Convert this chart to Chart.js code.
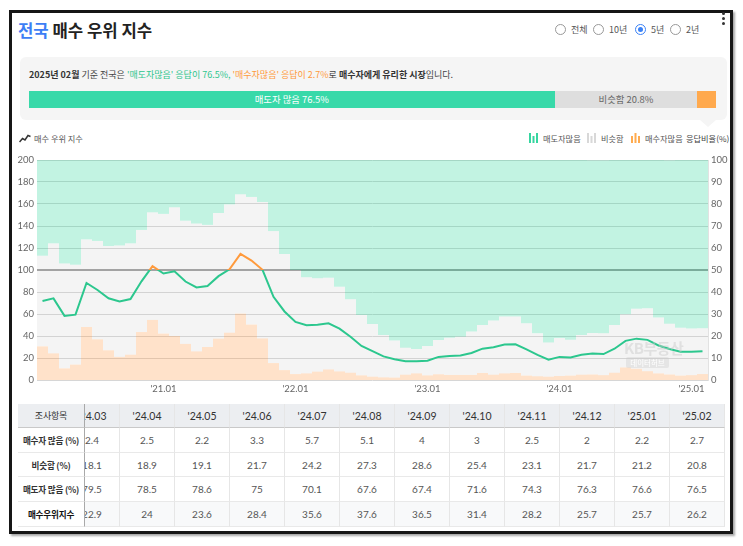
<!DOCTYPE html>
<html><head><meta charset="utf-8">
<script src="https://cdn.jsdelivr.net/npm/chart.js@4.4.1/dist/chart.umd.min.js"></script>
<style>
body{margin:0;width:743px;height:546px;background:#fff;font-family:Lato,'Noto Sans CJK KR',sans-serif;position:relative;overflow:hidden;}
.abs{position:absolute;}
#frame{left:9px;top:10px;width:724px;height:524px;border:3px solid #161616;box-sizing:border-box;box-shadow:2px 2px 2px rgba(0,0,0,.35);}
#title{left:18px;top:18px;font-size:16.7px;font-weight:700;color:#222;white-space:nowrap;font-family:'Noto Sans CJK KR',sans-serif;}
#title span{color:#3d7ef5;}
.radio{position:absolute;top:24px;width:11px;height:11px;border:1px solid #999;border-radius:50%;box-sizing:border-box;background:#fff;}
.radio.sel{border-color:#3b82f6;}
.radio.sel::after{content:'';position:absolute;left:2px;top:2px;width:5px;height:5px;border-radius:50%;background:#3b82f6;}
.rl{position:absolute;top:24px;font-size:9px;color:#555;font-family:'Noto Sans CJK KR',sans-serif;line-height:11px;}
#kebab{left:722px;top:12px;width:3px;}
#kebab i{display:block;width:3px;height:3px;border-radius:50%;background:#333;margin-bottom:2px;}
#sbox{left:20px;top:57px;width:707px;height:63px;background:#f5f5f5;border-radius:6px;}
#tail{left:700px;top:120px;width:0;height:0;border-left:8px solid transparent;border-right:8px solid transparent;border-top:7px solid #f5f5f5;}
#stext{left:29px;top:68px;font-size:9px;color:#444;white-space:nowrap;font-family:'Noto Sans CJK KR',sans-serif;}
#stext b{color:#333;}
#stext .g{color:#2ec58e;}
#stext .o{color:#ff9a3c;}
#pbar{left:29px;top:91px;width:687px;height:17px;display:flex;font-size:9.4px;font-family:'Noto Sans CJK KR',sans-serif;line-height:17px;}
#pbar div{text-align:center;overflow:hidden;white-space:nowrap;}
.lg{position:absolute;top:133px;font-size:8.2px;color:#555;font-family:'Noto Sans CJK KR',sans-serif;line-height:11px;white-space:nowrap;}
#cwrap{left:12px;top:150px;width:718px;height:248px;}
#wm1{left:624px;top:337px;font-size:15px;color:rgba(200,200,200,0.45);font-family:'Noto Sans CJK KR',sans-serif;font-weight:700;letter-spacing:-0.5px;}
#wm2{left:626px;top:357px;width:43px;height:11px;border-radius:2px;background:rgba(200,200,200,0.35);color:#fff;font-size:7.5px;line-height:11px;text-align:center;font-family:'Noto Sans CJK KR',sans-serif;}
#tbl{left:18px;top:404px;width:709px;height:123px;overflow:hidden;}
.cell{position:absolute;text-align:center;font-size:10px;color:#555;box-sizing:border-box;border-right:1px solid #e6e6e6;border-bottom:1px solid #e9e9e9;white-space:nowrap;}
.hd{background:#eceef1;color:#333;border-bottom:1px solid #c9c9c9;font-size:10.5px;}
.lab{background:#fff;color:#333;font-weight:700;font-family:'Noto Sans CJK KR',sans-serif;font-size:8.6px;letter-spacing:-0.2px;border-right:1px solid #a9a9a9;}
.lab.hd{background:#eceef1;font-weight:400;font-size:9px;}
.last{background:#f8f9fa;}
</style></head>
<body>
<div id="frame" class="abs"></div>
<div id="title" class="abs"><span>전국</span> 매수 우위 지수</div>
<div class="radio" style="left:555px"></div><div class="rl" style="left:571px">전체</div>
<div class="radio" style="left:593px"></div><div class="rl" style="left:609px">10년</div>
<div class="radio sel" style="left:635px"></div><div class="rl" style="left:651px">5년</div>
<div class="radio" style="left:670px"></div><div class="rl" style="left:686px">2년</div>
<div id="kebab" class="abs"><i></i><i></i><i></i></div>

<div id="sbox" class="abs"></div>
<div id="tail" class="abs"></div>
<div id="stext" class="abs"></div>
<div id="pbar" class="abs"></div>

<div class="lg" style="left:19px"><svg width="12" height="10" style="vertical-align:-1px;margin-right:3px"><polyline points="0.5,9 3.5,5.5 6,7 9,2.5 11.5,3.5" fill="none" stroke="#333" stroke-width="1.5"/></svg>매수 우위 지수</div>
<div class="lg" style="left:529px"><svg width="10" height="10" style="vertical-align:-1px;margin-right:4px"><rect x="0" y="0" width="2" height="10" fill="#36d6a0"/><rect x="3.5" y="3" width="2" height="7" fill="#36d6a0"/><rect x="7" y="0" width="2" height="10" fill="#36d6a0"/></svg>매도자많음</div>
<div class="lg" style="left:587px"><svg width="10" height="10" style="vertical-align:-1px;margin-right:4px"><rect x="0" y="0" width="2" height="10" fill="#d8d8d8"/><rect x="3.5" y="3" width="2" height="7" fill="#d8d8d8"/><rect x="7" y="0" width="2" height="10" fill="#d8d8d8"/></svg>비슷함</div>
<div class="lg" style="left:631px"><svg width="10" height="10" style="vertical-align:-1px;margin-right:4px"><rect x="0" y="3" width="2" height="7" fill="#ffab4f"/><rect x="3.5" y="0" width="2" height="10" fill="#ffab4f"/><rect x="7" y="3" width="2" height="7" fill="#ffab4f"/></svg>매수자많음</div>
<div class="lg" style="left:686px;color:#444">응답비율(%)</div>

<div id="cwrap" class="abs"><canvas id="c" width="718" height="248"></canvas></div>
<div id="wm1" class="abs">KB부동산</div>
<div id="wm2" class="abs">데이터허브</div>

<div id="tbl" class="abs"></div>

<script>
const months = ["'20.02","'20.03","'20.04","'20.05","'20.06","'20.07","'20.08","'20.09","'20.10","'20.11","'20.12",
"'21.01","'21.02","'21.03","'21.04","'21.05","'21.06","'21.07","'21.08","'21.09","'21.10","'21.11","'21.12",
"'22.01","'22.02","'22.03","'22.04","'22.05","'22.06","'22.07","'22.08","'22.09","'22.10","'22.11","'22.12",
"'23.01","'23.02","'23.03","'23.04","'23.05","'23.06","'23.07","'23.08","'23.09","'23.10","'23.11","'23.12",
"'24.01","'24.02","'24.03","'24.04","'24.05","'24.06","'24.07","'24.08","'24.09","'24.10","'24.11","'24.12",
"'25.01","'25.02"];
const buyerMany = [15.3,12.1,5.3,7.0,24.1,18.5,13.5,10.5,11.5,21.8,27.3,21.1,20.0,16.4,13.0,15.0,18.8,21.5,30.2,25.2,18.9,7.7,4.5,2.7,3.0,3.8,4.8,3.9,3.3,2.1,1.5,1.2,1.1,2.4,3.0,2.1,2.6,2.3,2.3,2.3,3.2,2.4,3.0,3.2,2.0,1.7,1.5,1.8,2.0,2.4,2.5,2.2,3.3,5.7,5.1,4,3,2.5,2,2.2,2.7];
const similar = [41.2,50.0,47.7,45.4,39.8,44.7,47.4,50.6,50.6,46.4,48.9,54.4,58.5,56.0,58.1,55.5,57.1,58.3,54.2,58.0,62.0,60.0,52.8,47.3,43.7,42.4,41.7,38.5,33.4,27.4,24.0,19.3,16.8,12.3,11.1,13.4,15.6,16.9,17.4,19.7,21.8,24.6,25.9,25.7,23.8,19.5,15.6,17.3,16.3,18.1,18.9,19.1,21.7,24.2,27.3,28.6,25.4,23.1,21.7,21.2,20.8];
const sellerMany = [43.5,37.9,47.0,47.6,36.1,36.8,39.1,38.9,37.9,31.8,23.8,24.5,21.5,27.6,28.9,29.5,24.1,20.2,15.6,16.8,19.1,32.3,42.7,50.0,53.3,53.8,53.5,57.6,63.3,70.5,74.5,79.5,82.1,85.3,85.9,84.5,81.8,80.8,80.3,78.0,75.0,73.0,71.1,71.1,74.2,78.8,82.9,80.9,81.7,79.5,78.5,78.6,75,70.1,67.6,67.4,71.6,74.3,76.3,76.6,76.5];
const buyIndex = [71.8,74.2,58.3,59.4,88.2,81.8,74.3,71.4,73.6,89.7,103.5,96.8,98.8,89.5,84.2,85.5,94.4,100.6,114.7,108.6,100.2,75.6,62.3,52.8,49.8,50.3,51.5,46.7,39.3,31,26.2,21.5,18.8,17,17,17.6,21,21.8,22.2,24.6,28.5,29.8,32.3,32.4,27.8,22.8,18.5,21,20.4,22.9,24,23.6,28.4,35.6,37.6,36.5,31.4,28.2,25.7,25.7,26.2];
const leftTicks = [0,20,40,60,80,100,120,140,160,180,200];
const rightTicks = [0,10,20,30,40,50,60,70,80,90,100];
const rowNames = ['매수자 많음 (%)','비슷함 (%)','매도자 많음 (%)','매수우위지수'];

const GREEN_LINE = '#2cc78e', ORANGE_LINE = '#ff9a3c';
const n = months.length;

// summary
const lastS = sellerMany[n-1], lastN = similar[n-1], lastB = buyerMany[n-1];
document.getElementById('stext').innerHTML =
  `<b>2025년 02월</b> 기준 전국은 <span class="g">'매도자많음' 응답이 ${lastS}%,</span> <span class="o">'매수자많음' 응답이 ${lastB}%</span>로 <b>매수자에게 유리한 시장</b>입니다.`;
document.getElementById('pbar').innerHTML =
  `<div style="width:${lastS}%;background:#38d9a9;color:#fff">매도자 많음 ${lastS}%</div>`+
  `<div style="width:${lastN}%;background:#dedede;color:#666">비슷함 ${lastN}%</div>`+
  `<div style="width:${lastB}%;background:#ffa94d"></div>`;

// table
(function(){
  const t = document.getElementById('tbl');
  const rowH = [24,24.7,24.7,24.7,24.7];
  const tops = [0]; for (let i=1;i<rowH.length;i++) tops.push(tops[i-1]+rowH[i-1]);
  const colW = 55, startX = 47;
  const idx = []; for (let i=n-12;i<n;i++) idx.push(i);
  const rows = [buyerMany, similar, sellerMany, buyIndex];
  let html = '';
  idx.forEach((mi,c)=>{
    const x = startX + c*colW;
    html += `<div class="cell hd" style="left:${x}px;top:0;width:${colW}px;height:${rowH[0]}px;line-height:${rowH[0]}px">${months[mi]}</div>`;
    rows.forEach((arr,r)=>{
      const last = r===3 ? ' last' : '';
      html += `<div class="cell${last}" style="left:${x}px;top:${tops[r+1]}px;width:${colW}px;height:${rowH[r+1]}px;line-height:${rowH[r+1]}px">${arr[mi]}</div>`;
    });
  });
  html += `<div class="cell lab hd" style="left:0;top:0;width:67px;height:${rowH[0]}px;line-height:${rowH[0]}px">조사항목</div>`;
  rowNames.forEach((nm,r)=>{
    const extra = r===3 ? 'color:#111;' : '';
    html += `<div class="cell lab" style="left:0;top:${tops[r+1]}px;width:67px;height:${rowH[r+1]}px;line-height:${rowH[r+1]}px;${extra}">${nm}</div>`;
  });
  t.innerHTML = html;
})();

function lineGradient(ctx){
  const chart = ctx.chart; const ca = chart.chartArea;
  if (!ca) return GREEN_LINE;
  const y100 = chart.scales.y.getPixelForValue(100);
  const g = chart.ctx.createLinearGradient(0, ca.top, 0, ca.bottom);
  const f = Math.min(1, Math.max(0, (y100 - ca.top) / (ca.bottom - ca.top)));
  g.addColorStop(0, ORANGE_LINE); g.addColorStop(f, ORANGE_LINE);
  g.addColorStop(f, GREEN_LINE); g.addColorStop(1, GREEN_LINE);
  return g;
}

const tickFont = {family:"Lato, 'Noto Sans CJK KR', sans-serif", size:9.5};
const barCommon = {type:'bar', yAxisID:'y1', barPercentage:1, categoryPercentage:1, order:1, inflateAmount:0, borderWidth:0};
new Chart(document.getElementById('c'), {
  data: {
    labels: months,
    datasets: [
      {type:'line', label:'매수 우위 지수', data: buyIndex, yAxisID:'y', borderColor: lineGradient, borderWidth:2, pointRadius:0, tension:0, order:0},
      Object.assign({label:'매수자많음', data: buyerMany, backgroundColor:'rgba(255,160,80,0.3)'}, barCommon),
      Object.assign({label:'비슷함', data: similar, backgroundColor:'rgba(200,200,200,0.2)'}, barCommon),
      Object.assign({label:'매도자많음', data: sellerMany, backgroundColor:'rgba(54,214,160,0.3)'}, barCommon)
    ]
  },
  options: {
    responsive:false, animation:false,
    layout:{padding:{top:10,left:0,right:0,bottom:0}},
    plugins:{legend:{display:false}, tooltip:{enabled:false}},
    scales:{
      x:{stacked:true, offset:true, grid:{display:false, drawTicks:false}, border:{display:false},
         ticks:{autoSkip:false, maxRotation:0, padding:3, color:'#666', font:tickFont,
           callback:function(v,i){ const l = months[i]; return l.endsWith('.01') ? l : ''; }},
         afterFit(s){ s.height = 18; }},
      y:{position:'left', min:0, max:200, afterBuildTicks(s){ s.ticks = leftTicks.map(v=>({value:v})); },
         grid:{drawTicks:false, color:c=> c.tick && c.tick.value===100 ? '#9a9a9a' : '#d6d6d6', lineWidth:c=> c.tick && c.tick.value===100 ? 2 : 1},
         border:{display:false},
         ticks:{padding:3, color:'#666', font:tickFont},
         afterFit(s){ s.width = 25; }},
      y1:{position:'right', stacked:true, min:0, max:100, afterBuildTicks(s){ s.ticks = rightTicks.map(v=>({value:v})); },
         grid:{display:false, drawTicks:false}, border:{display:true, color:'#e2e2e2'},
         ticks:{padding:3, color:'#666', font:tickFont},
         afterFit(s){ s.width = 22; }}
    }
  }
});
</script>
</body></html>
